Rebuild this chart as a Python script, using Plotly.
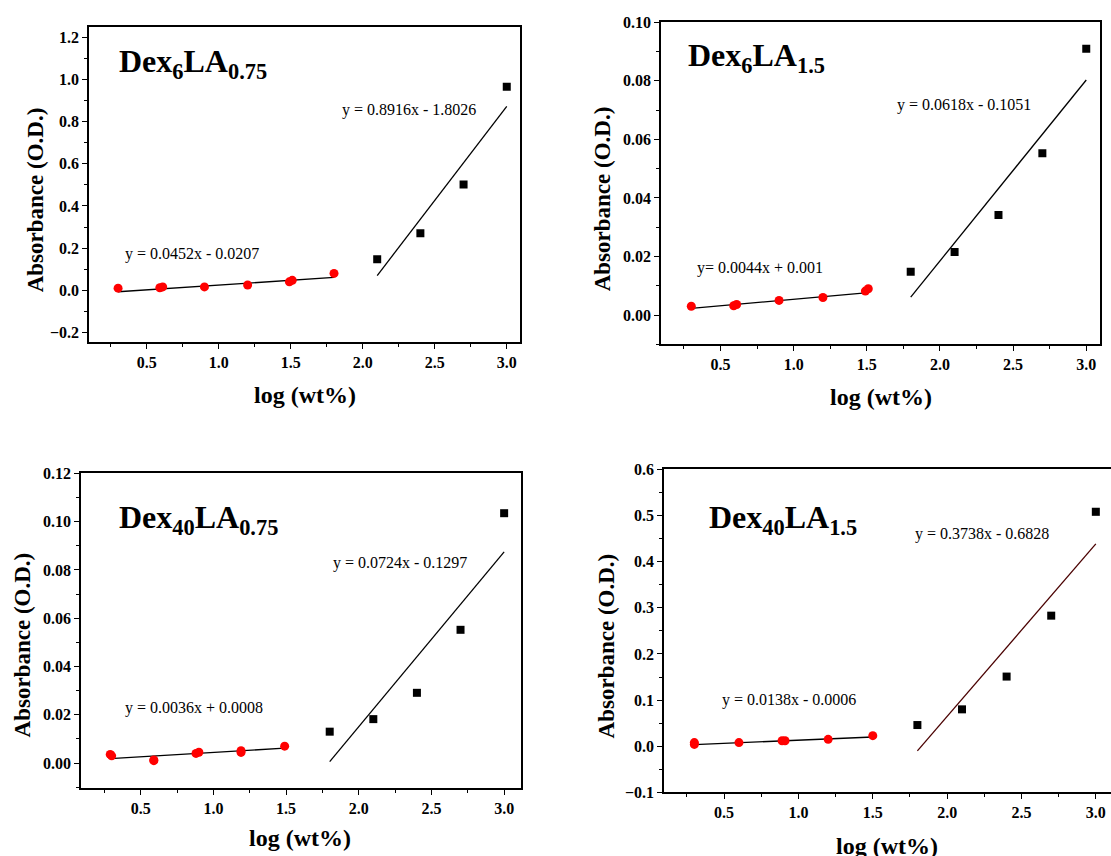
import plotly.graph_objects as go

W, H = 1111, 856

# ---------------- data ----------------
titles = ["Dex<sub>6</sub>LA<sub>0.75</sub>", "Dex<sub>6</sub>LA<sub>1.5</sub>",
          "Dex<sub>40</sub>LA<sub>0.75</sub>", "Dex<sub>40</sub>LA<sub>1.5</sub>"]

# red (low-concentration) points
red_x_1 = [0.3, 0.59, 0.61, 0.9, 1.2, 1.49, 1.51, 1.8]
red_y_1 = [0.010, 0.012, 0.016, 0.016, 0.025, 0.040, 0.047, 0.080]
red_x_2 = [0.3, 0.59, 0.61, 0.9, 1.2, 1.49, 1.51]
red_y_2 = [0.0030, 0.0032, 0.0036, 0.0050, 0.0060, 0.0082, 0.0090]
red_x_3 = [0.29, 0.30, 0.59, 0.59, 0.88, 0.90, 1.19, 1.19, 1.49]
red_y_3 = [0.0036, 0.0030, 0.0010, 0.0013, 0.0040, 0.0045, 0.0044, 0.0051, 0.0070]
red_x_4 = [0.3, 0.3, 0.6, 0.89, 0.91, 1.2, 1.5]
red_y_4 = [0.008, 0.004, 0.008, 0.012, 0.012, 0.015, 0.023]

# black (high-concentration) points
blk_x_1 = [2.1, 2.4, 2.7, 3.0]
blk_y_1 = [0.147, 0.270, 0.502, 0.965]
blk_x_2 = [1.8, 2.1, 2.4, 2.7, 3.0]
blk_y_2 = [0.0148, 0.0215, 0.0342, 0.0553, 0.0910]
blk_x_3 = [1.8, 2.1, 2.4, 2.7, 3.0]
blk_y_3 = [0.0130, 0.0182, 0.0291, 0.0552, 0.1035]
blk_x_4 = [1.8, 2.1, 2.4, 2.7, 3.0]
blk_y_4 = [0.046, 0.080, 0.151, 0.283, 0.508]

# linear fits (slope, intercept)
fit_low = [(0.0452, -0.0207), (0.0044, 0.001), (0.0036, 0.0008), (0.0138, -0.0006)]
fit_high = [(0.8916, -1.8026), (0.0618, -0.1051), (0.0724, -0.1297), (0.3738, -0.6828)]
eq_low = ["y = 0.0452x - 0.0207", "y= 0.0044x + 0.001", "y = 0.0036x + 0.0008", "y = 0.0138x - 0.0006"]
eq_high = ["y = 0.8916x - 1.8026", "y = 0.0618x - 0.1051", "y = 0.0724x - 0.1297", "y = 0.3738x - 0.6828"]

red_x = [red_x_1, red_x_2, red_x_3, red_x_4]
red_y = [red_y_1, red_y_2, red_y_3, red_y_4]
blk_x = [blk_x_1, blk_x_2, blk_x_3, blk_x_4]
blk_y = [blk_y_1, blk_y_2, blk_y_3, blk_y_4]

# ---------------- layout geometry (target pixels) ----------------
boxes = [  # left, right, top, bottom
    (89, 520, 27, 342),
    (661, 1100, 22, 344),
    (81, 521, 473, 788),
    (664, 1111, 469, 792),
]
xranges = [(0.098, 3.092), (0.093, 3.094), (0.089, 3.116), (0.096, 3.102)]
yranges = [(-0.247, 1.247), (-0.01, 0.10), (-0.0105, 0.12), (-0.1, 0.6)]
ydticks = [0.2, 0.02, 0.02, 0.1]
yfmt = [".1f", ".2f", ".2f", ".1f"]
line_colors_high = ["black", "black", "black", "#4a0000"]

# text positions (target pixels)
title_pos = [(117, 63), (686, 57), (117, 519), (707, 519)]
eqh_pos = [(340, 110), (895, 105), (331, 563), (913, 534)]
eql_pos = [(123, 254), (695, 268), (123, 708), (720, 700)]
ylab_pos = [(35, 200), (602, 198), (22, 645), (606, 646)]
xlab_pos = [(305, 395), (881, 397), (300, 838), (887, 846)]

SERIF = "Liberation Serif, Times New Roman, serif"

# measured page rendering offset/scale in the vertical direction
Y_OFF, Y_SCALE = 7.7, 0.98


def px(x):
    return min(1.0, x / W)


def py(y):
    yf = (y - Y_OFF) / Y_SCALE
    return min(1.0, max(0.0, 1 - yf / H))


fig = go.Figure()
annotations = []

for i in range(4):
    xa = "x" if i == 0 else f"x{i+1}"
    ya = "y" if i == 0 else f"y{i+1}"
    # fit lines
    sl, ic = fit_low[i]
    x0, x1 = red_x[i][0], red_x[i][-1]
    fig.add_trace(go.Scatter(x=[x0, x1], y=[sl * x0 + ic, sl * x1 + ic], mode="lines",
                             line=dict(color="black", width=1.3), xaxis=xa, yaxis=ya,
                             showlegend=False, hoverinfo="skip"))
    sh, ih = fit_high[i]
    x0, x1 = blk_x[i][0], blk_x[i][-1]
    fig.add_trace(go.Scatter(x=[x0, x1], y=[sh * x0 + ih, sh * x1 + ih], mode="lines",
                             line=dict(color=line_colors_high[i], width=1.3), xaxis=xa, yaxis=ya,
                             showlegend=False, hoverinfo="skip"))
    # points
    fig.add_trace(go.Scatter(x=red_x[i], y=red_y[i], mode="markers",
                             marker=dict(color="#ff0000", size=9, symbol="circle", line=dict(width=0)),
                             xaxis=xa, yaxis=ya, showlegend=False))
    fig.add_trace(go.Scatter(x=blk_x[i], y=blk_y[i], mode="markers",
                             marker=dict(color="black", size=8, symbol="square", line=dict(width=0)),
                             xaxis=xa, yaxis=ya, showlegend=False))

    l, r, t, b = boxes[i]
    axis_common = dict(showline=True, linecolor="black", linewidth=1.6,
                       ticks="outside", tickcolor="black", ticklen=5, tickwidth=1.2,
                       showgrid=False, zeroline=False,
                       tickfont=dict(family=SERIF, size=16, color="black", weight="bold"))
    xkey = "xaxis" if i == 0 else f"xaxis{i+1}"
    ykey = "yaxis" if i == 0 else f"yaxis{i+1}"
    fig.layout[xkey] = dict(axis_common, domain=[px(l), px(r)], range=list(xranges[i]),
                            anchor=ya, tick0=0, dtick=0.5, tickformat=".1f",
                            mirror=True,
                            minor=dict(dtick=0.25, ticks="outside", ticklen=3, tickcolor="black", tickwidth=1.2))
    fig.layout[ykey] = dict(axis_common, domain=[py(b), py(t)], range=list(yranges[i]),
                            anchor=xa, tick0=0, dtick=ydticks[i], tickformat=yfmt[i],
                            mirror=(i != 3),
                            minor=dict(dtick=ydticks[i] / 2, ticks="outside", ticklen=3, tickcolor="black", tickwidth=1.2))

    annotations.append(dict(text="<b>" + titles[i] + "</b>", x=px(title_pos[i][0]), y=py(title_pos[i][1]),
                            xref="paper", yref="paper", xanchor="left", yanchor="middle", showarrow=False,
                            font=dict(family=SERIF, size=32, color="black")))
    annotations.append(dict(text=eq_high[i], x=px(eqh_pos[i][0]), y=py(eqh_pos[i][1]),
                            xref="paper", yref="paper", xanchor="left", yanchor="middle", showarrow=False,
                            font=dict(family=SERIF, size=16, color="black")))
    annotations.append(dict(text=eq_low[i], x=px(eql_pos[i][0]), y=py(eql_pos[i][1]),
                            xref="paper", yref="paper", xanchor="left", yanchor="middle", showarrow=False,
                            font=dict(family=SERIF, size=16, color="black")))
    annotations.append(dict(text="<b>Absorbance (O.D.)</b>", x=px(ylab_pos[i][0]), y=py(ylab_pos[i][1]),
                            xref="paper", yref="paper", xanchor="center", yanchor="middle", showarrow=False,
                            textangle=-90, font=dict(family=SERIF, size=23, color="black")))
    annotations.append(dict(text="<b>log (wt%)</b>", x=px(xlab_pos[i][0]), y=py(xlab_pos[i][1]),
                            xref="paper", yref="paper", xanchor="center", yanchor="middle", showarrow=False,
                            font=dict(family=SERIF, size=24, color="black")))

fig.update_layout(width=W, height=H, margin=dict(l=0, r=0, t=0, b=0),
                  paper_bgcolor="white", plot_bgcolor="white",
                  font=dict(family=SERIF, color="black"),
                  annotations=annotations, showlegend=False)

fig.write_html("out.html", config={"displayModeBar": False},
               post_script="document.body.style.margin='0';")
